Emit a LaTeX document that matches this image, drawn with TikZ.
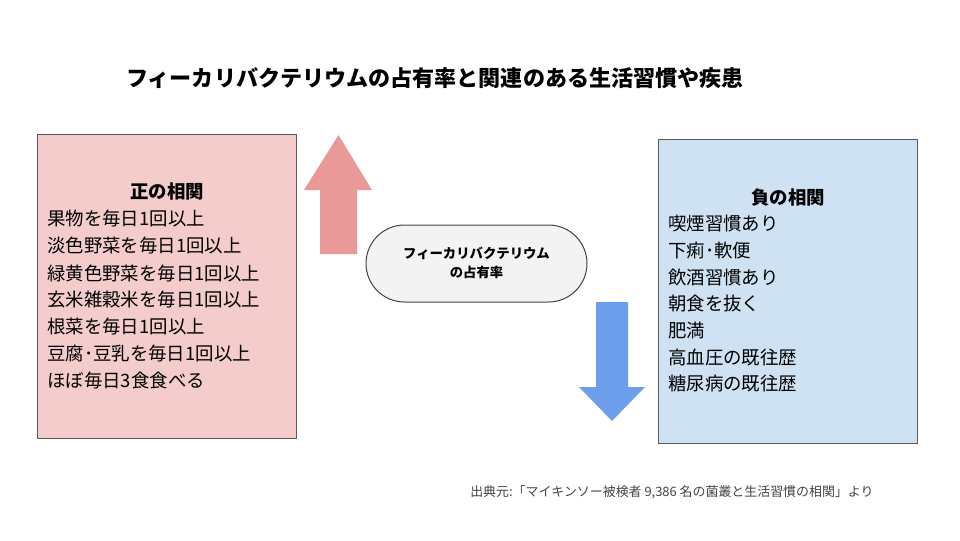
\documentclass[tikz,border=0pt]{standalone}
\usepackage{fontspec}
\setmainfont{Noto Sans CJK JP}
\begin{document}
\begin{tikzpicture}
                            \useasboundingbox (0,0) rectangle (24.000000,13.500000);
                            {
                            
                            % Changing color 244 204 204
                            \definecolor{r244g204b204}{rgb}{0.956863,0.800000,0.800000}%
                            % Changing color 207 226 243
                            \definecolor{r207g226b243}{rgb}{0.811765,0.886275,0.952941}%
                            % Changing color 234 153 153
                            \definecolor{r234g153b153}{rgb}{0.917647,0.600000,0.600000}%
                            % Changing color 109 158 235
                            \definecolor{r109g158b235}{rgb}{0.427451,0.619608,0.921569}%
                            % Changing color 243 243 243
                            \definecolor{r243g243b243}{rgb}{0.952941,0.952941,0.952941}%
                            % Changing color 89 89 89
                            \definecolor{r89g89b89}{rgb}{0.349020,0.349020,0.349020}%
                            % Changing color 67 67 67
                            \definecolor{r67g67b67}{rgb}{0.262745,0.262745,0.262745}%
                            
                            % Marking title
                            \node (title) at (10.875000,11.550000) {\fontsize{15.7}{18}\selectfont\bfseries フィーカリバクテリウムの占有率と関連のある生活習慣や疾患};%
                            
                            % Filling rectangle positive
                            \filldraw [fill=r244g204b204, draw=r89g89b89, line width=0.025cm] (0.925000,10.150000) rectangle (7.400000,2.550000);%
                            
                            % Filling rectangle negative
                            \filldraw [fill=r207g226b243, draw=r89g89b89, line width=0.025cm] (16.450000,10.025000) rectangle (22.925000,2.425000);%
                            
                            % Filling arrow up
                            \fill [r234g153b153] (8.462500,10.125000) -- (9.300000,8.750000) -- (8.925000,8.750000) -- (8.925000,7.150000) -- (8.000000,7.150000) -- (8.000000,8.750000) -- (7.600000,8.750000) -- cycle;%
                            
                            % Filling arrow down
                            \fill [r109g158b235] (15.300000,2.975000) -- (16.125000,3.825000) -- (15.700000,3.825000) -- (15.700000,5.950000) -- (14.900000,5.950000) -- (14.900000,3.825000) -- (14.475000,3.825000) -- cycle;%
                            
                            % Drawing pill rate
                            \filldraw [fill=r243g243b243, draw=r67g67b67, line width=0.025cm, rounded corners=0.962500cm] (9.150000,7.875000) rectangle (14.675000,5.950000);%
                            \node (rate1) at (11.912500,7.175000) {\fontsize{9.5}{12}\selectfont\bfseries フィーカリバクテリウム};%
                            \node (rate2) at (11.912500,6.700000) {\fontsize{9.5}{12}\selectfont\bfseries の占有率};%
                            
                            % Marking positive list
                            \node (poshead) at (4.175000,8.700000) {\fontsize{13.1}{16}\selectfont\bfseries 正の相関};%
                            \node (pos1) [anchor=west, inner sep=0pt] at (1.175000,8.025000) {\fontsize{13.1}{16}\selectfont 果物を毎日1回以上};%
                            \node (pos2) [anchor=west, inner sep=0pt] at (1.175000,7.350000) {\fontsize{13.1}{16}\selectfont 淡色野菜を毎日1回以上};%
                            \node (pos3) [anchor=west, inner sep=0pt] at (1.175000,6.675000) {\fontsize{13.1}{16}\selectfont 緑黄色野菜を毎日1回以上};%
                            \node (pos4) [anchor=west, inner sep=0pt] at (1.175000,6.000000) {\fontsize{13.1}{16}\selectfont 玄米雑穀米を毎日1回以上};%
                            \node (pos5) [anchor=west, inner sep=0pt] at (1.175000,5.325000) {\fontsize{13.1}{16}\selectfont 根菜を毎日1回以上};%
                            \node (pos6) [anchor=west, inner sep=0pt] at (1.175000,4.650000) {\fontsize{13.1}{16}\selectfont 豆腐･豆乳を毎日1回以上};%
                            \node (pos7) [anchor=west, inner sep=0pt] at (1.175000,3.975000) {\fontsize{13.1}{16}\selectfont ほぼ毎日3食食べる};%
                            
                            % Marking negative list
                            \node (neghead) at (19.700000,8.550000) {\fontsize{13.1}{16}\selectfont\bfseries 負の相関};%
                            \node (neg1) [anchor=west, inner sep=0pt] at (16.700000,7.900000) {\fontsize{13.1}{16}\selectfont 喫煙習慣あり};%
                            \node (neg2) [anchor=west, inner sep=0pt] at (16.700000,7.225000) {\fontsize{13.1}{16}\selectfont 下痢･軟便};%
                            \node (neg3) [anchor=west, inner sep=0pt] at (16.700000,6.550000) {\fontsize{13.1}{16}\selectfont 飲酒習慣あり};%
                            \node (neg4) [anchor=west, inner sep=0pt] at (16.700000,5.900000) {\fontsize{13.1}{16}\selectfont 朝食を抜く};%
                            \node (neg5) [anchor=west, inner sep=0pt] at (16.700000,5.225000) {\fontsize{13.1}{16}\selectfont 肥満};%
                            \node (neg6) [anchor=west, inner sep=0pt] at (16.700000,4.550000) {\fontsize{13.1}{16}\selectfont 高血圧の既往歴};%
                            \node (neg7) [anchor=west, inner sep=0pt] at (16.700000,3.900000) {\fontsize{13.1}{16}\selectfont 糖尿病の既往歴};%
                            
                            % Marking source
                            \node (source) [anchor=west, inner sep=0pt, text=r67g67b67] at (11.750000,1.200000) {\fontsize{9.2}{11}\selectfont 出典元:「マイキンソー被検者 9,386 名の菌叢と生活習慣の相関」より};%
                            \color{black}
                            }
                            \end{tikzpicture}
\end{document}
